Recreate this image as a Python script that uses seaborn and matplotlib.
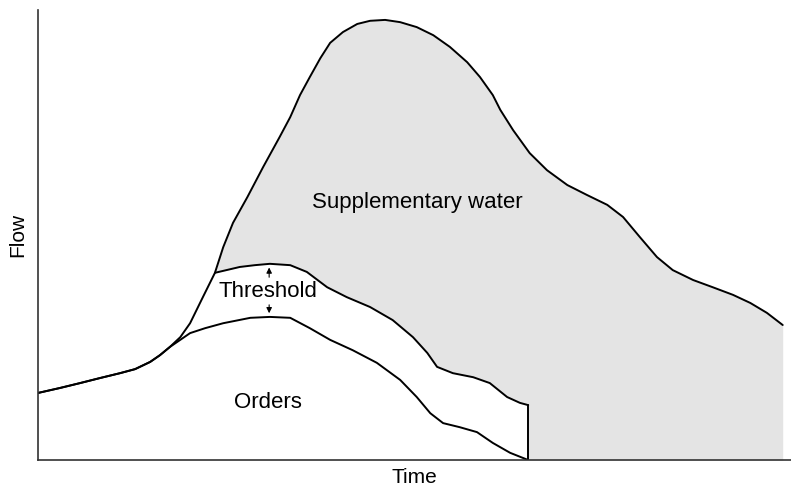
import numpy as np
import matplotlib
matplotlib.use('Agg')
import matplotlib.pyplot as plt
import seaborn as sns

sns.set_style("white")
plt.rcParams['font.family'] = ['Liberation Sans', 'DejaVu Sans']
plt.rcParams['text.color'] = 'black'
plt.rcParams['axes.labelcolor'] = 'black'

# total flow (upper envelope)
flow_t = [0.0, 2.9, 5.6, 8.2, 10.9, 12.9, 14.9, 16.2, 17.5, 18.9, 20.2, 21.9,
          23.5, 24.6, 25.9, 27.8, 29.9, 32.1, 33.5, 34.8, 36.1, 37.5, 38.8,
          40.5, 42.4, 44.1, 46.1, 48.1, 50.3, 52.5, 54.7, 57.0, 58.7, 60.4,
          61.4, 63.1, 65.3, 67.6, 70.3, 72.9, 75.6, 77.7, 79.9, 82.2, 84.3,
          87.0, 89.6, 92.3, 94.6, 96.8, 98.9]
flow_y = [14.9, 16.0, 17.1, 18.2, 19.3, 20.2, 21.8, 23.3, 25.1, 27.3, 30.4, 36.2,
          41.6, 47.3, 52.7, 58.4, 65.1, 71.8, 76.2, 81.1, 85.1, 89.3, 92.7,
          95.1, 96.9, 97.6, 97.8, 97.3, 96.2, 94.4, 91.8, 88.4, 85.1, 81.1,
          77.8, 73.3, 68.2, 64.4, 61.1, 58.9, 56.7, 54.0, 49.6, 45.1, 42.2,
          40.0, 38.4, 36.7, 34.9, 32.7, 30.0]

# orders
orders_t = [0.0, 2.9, 5.6, 8.2, 10.9, 12.9, 14.9, 16.2, 17.5, 20.2, 22.2, 24.6,
            28.2, 30.8, 33.5, 36.1, 38.8, 41.8, 45.0, 48.1, 50.3, 52.1, 53.8,
            56.0, 58.3, 60.4, 62.7, 65.1]
orders_y = [14.9, 16.0, 17.1, 18.2, 19.3, 20.2, 21.8, 23.3, 25.1, 28.2, 29.3, 30.4,
            31.6, 31.8, 31.6, 29.3, 26.7, 24.4, 21.6, 17.8, 14.0, 10.4, 8.2,
            7.3, 6.2, 3.8, 1.6, 0.0]

# orders + threshold
thr_t = [23.5, 26.8, 28.8, 30.8, 33.5, 35.7, 38.4, 41.0, 44.1, 47.1, 49.8, 51.7,
         53.0, 55.1, 57.8, 60.0, 62.3, 64.0, 65.1]
thr_y = [41.6, 42.9, 43.3, 43.6, 43.3, 41.8, 38.4, 36.2, 34.0, 31.1, 27.3, 23.8,
         20.7, 19.3, 18.4, 17.1, 14.0, 12.7, 12.2]

fig = plt.figure(figsize=(7.91, 4.93), dpi=100)
ax = fig.add_axes([0.048, 0.0669, 0.952, 0.9128])

ft = np.array(flow_t)
fy = np.array(flow_y)

# supplementary water area
ax.fill_between(ft, 0, fy, color='#e4e4e4', lw=0)
# white part: flow before the threshold starts, then the threshold curve
early = ft < thr_t[0]
wt = np.concatenate([ft[early], thr_t])
wy = np.concatenate([fy[early], thr_y])
ax.fill_between(wt, 0, wy, color='white', lw=0)

line_kw = dict(color='black', lw=1.4, ax=ax, sort=False)
sns.lineplot(x=flow_t, y=flow_y, **line_kw)
sns.lineplot(x=orders_t, y=orders_y, **line_kw)
sns.lineplot(x=thr_t, y=thr_y, **line_kw)
ax.plot([thr_t[-1], thr_t[-1]], [0, thr_y[-1]], color='black', lw=1.4)
for ln in ax.lines:
    ln.set_solid_joinstyle('round')
    ln.set_solid_capstyle('round')

ax.text(30.5, 37.5, 'Threshold', ha='center', va='center', fontsize=16)
ax.text(30.5, 12.7, 'Orders', ha='center', va='center', fontsize=16)
ax.text(50.4, 57.2, 'Supplementary water', ha='center', va='center', fontsize=16)

arr = dict(arrowstyle='-|>', color='black', lw=0.8, mutation_scale=8)
ax.annotate('', xy=(30.7, 43.4), xytext=(30.7, 40.0), arrowprops=arr)
ax.annotate('', xy=(30.7, 32.0), xytext=(30.7, 35.1), arrowprops=arr)

ax.set_xlim(0, 100)
ax.set_ylim(0, 100)
ax.set_xticks([])
ax.set_yticks([])
ax.set_xlabel('Time', fontsize=15, labelpad=6)
ax.set_ylabel('Flow', fontsize=15, labelpad=8)
sns.despine(ax=ax)
for s in ['left', 'bottom']:
    ax.spines[s].set_color('#333333')
    ax.spines[s].set_linewidth(1.2)

fig.savefig('out.png', dpi=100)
